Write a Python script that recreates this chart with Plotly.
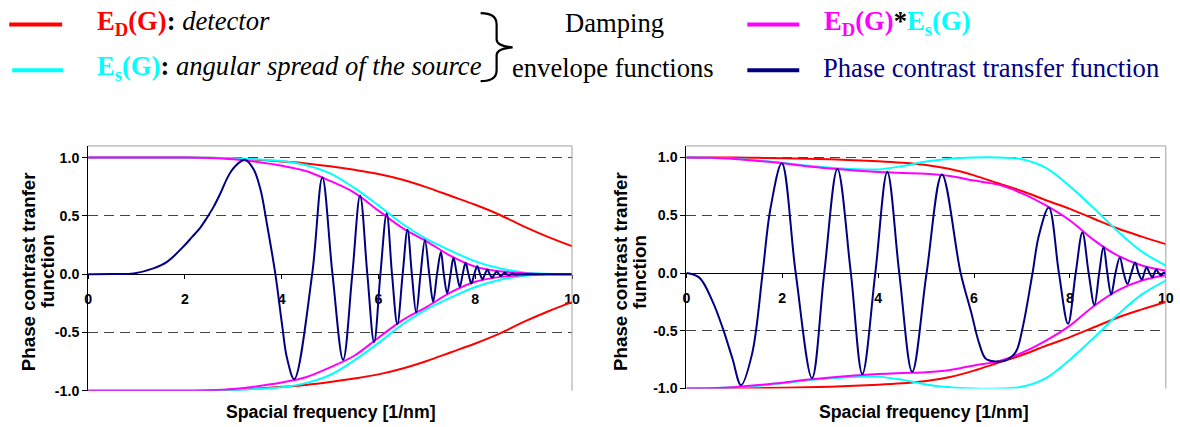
import plotly.graph_objects as go

W, H = 1180, 427

# ---------------- data ----------------
env_x = [0, 0.5, 1, 1.5, 2, 2.5, 3, 3.5, 4, 4.5, 5, 5.5, 6, 6.5, 7, 7.5, 8, 8.5, 9, 9.5, 10]

left_ed = [1, 1, 1, 1, 1, 0.998, 0.992, 0.982, 0.967, 0.95, 0.925, 0.895, 0.86, 0.81, 0.745, 0.67, 0.595, 0.51, 0.41, 0.32, 0.24]
left_es = [1, 1, 1, 1, 1, 0.999, 0.995, 0.985, 0.97, 0.935, 0.865, 0.74, 0.59, 0.43, 0.30, 0.20, 0.11, 0.05, 0.015, 0.003, 0]
left_prod = [1, 1, 1, 1, 1, 0.996, 0.985, 0.962, 0.93, 0.885, 0.80, 0.70, 0.545, 0.395, 0.28, 0.155, 0.065, 0.025, 0.008, 0.001, 0]

right_ed = [1, 1, 0.999, 0.997, 0.994, 0.99, 0.984, 0.977, 0.968, 0.955, 0.935, 0.90, 0.845, 0.777, 0.71, 0.63, 0.555, 0.47, 0.385, 0.315, 0.25]
right_es = [1, 0.998, 0.99, 0.975, 0.955, 0.93, 0.912, 0.90, 0.897, 0.925, 0.965, 0.99, 1.0, 1.0, 0.985, 0.91, 0.75, 0.56, 0.36, 0.185, 0.065]
right_prod = [1, 0.997, 0.988, 0.97, 0.95, 0.925, 0.905, 0.888, 0.875, 0.866, 0.86, 0.84, 0.80, 0.765, 0.69, 0.585, 0.455, 0.285, 0.15, 0.065, 0.02]

left_ctf_x = [0, 0.5, 0.94, 1.35, 1.63, 2.0, 2.15, 2.32, 2.45, 2.59, 2.73, 2.87, 2.96, 3.05, 3.15, 3.25,
              3.42, 3.56, 3.70, 3.87,
              4.01, 4.11, 4.26, 4.63, 4.84, 5.05, 5.27, 5.46, 5.62, 5.77, 5.91, 6.04, 6.17, 6.28,
              6.39, 6.50, 6.60, 6.69, 6.78, 6.87, 6.96, 7.05, 7.13, 7.21, 7.29, 7.35, 7.42, 7.49,
              7.55, 7.62, 7.68, 7.74, 7.80, 7.86, 7.92, 7.98, 8.04, 8.10, 8.15, 8.20, 8.25, 8.30,
              8.35, 8.40, 8.44, 8.49, 8.53, 8.57, 8.61, 8.65, 8.69, 8.73, 8.77, 8.81, 8.85, 8.90,
              9.0, 10]
left_ctf_y = [0, 0.001, 0.006, 0.05, 0.105, 0.25, 0.32, 0.40, 0.48, 0.575, 0.69, 0.82, 0.885, 0.93, 0.965, 0.98,
              0.90, 0.73, 0.42, 0,
              -0.44, -0.72, -0.90, 0, 0.83, 0, -0.735, 0, 0.675, 0, -0.584, 0, 0.52, 0,
              -0.43, 0, 0.38, 0, -0.33, 0, 0.29, 0, -0.236, 0, 0.19, 0, -0.165, 0,
              0.14, 0, -0.108, 0, 0.097, 0, -0.08, 0, 0.068, 0, -0.045, 0, 0.04, 0,
              -0.03, 0, 0.022, 0, -0.016, 0, 0.011, 0, -0.007, 0, 0.005, 0, -0.003, 0,
              0, 0]

right_ctf_x = [0, 0.27, 0.55, 0.76, 0.96, 1.14, 1.37, 1.59, 1.75, 1.99, 2.28, 2.62, 2.875, 3.15,
               3.43, 3.67, 3.94, 4.19, 4.44, 4.71, 5.01, 5.33, 5.72, 5.94, 6.10, 6.24, 6.42,
               6.66, 6.87, 7.01, 7.22, 7.35, 7.56, 7.77, 7.96, 8.12, 8.26, 8.39, 8.51, 8.61,
               8.70, 8.78, 8.86, 8.95, 9.04, 9.12, 9.20, 9.28, 9.36, 9.43, 9.50, 9.55, 9.60,
               9.66, 9.72, 9.76, 9.80, 9.85, 9.90, 9.95, 10]
right_ctf_y = [0, -0.04, -0.25, -0.48, -0.74, -0.97, -0.70, 0, 0.55, 0.95, 0, -0.91, 0, 0.90,
               0, -0.875, 0, 0.875, 0, -0.856, 0, 0.853, 0, -0.34, -0.60, -0.74, -0.765,
               -0.756, -0.684, -0.48, 0, 0.32, 0.566, 0, -0.44, 0, 0.35, 0, -0.276, 0,
               0.228, 0, -0.186, 0, 0.134, 0, -0.094, 0, 0.09, 0, -0.057, 0, 0.05,
               0, -0.037, 0, 0.03, 0, -0.02, 0, 0.005]

y_tick_vals = [-1, -0.5, 0, 0.5, 1]
y_tick_text = ["-1.0", "-0.5", "0.0", "0.5", "1.0"]
x_tick_vals = [0, 2, 4, 6, 8, 10]
x_tick_text = ["0", "2", "4", "6", "8", "10"]

RED, CYAN, MAGENTA, NAVY = "#FF0000", "#00FFFF", "#FF00FF", "#000080"

# ---------------- layout helpers (target pixels -> paper) ----------------
# the captured page comes out slightly shrunk; compensate so marks land on target pixels
SX, OX = 0.991, 3.8
SY, OY = 0.985, -0.5
FS = 1 / 0.988


def px(x):
    return ((x - OX) / SX) / W


def py(y):
    return 1 - ((y - OY) / SY) / H


Y_MIN, Y_MAX = -1, 1.1
panels = [
    dict(xa="x", ya="y", x0=88, x1=572.5, ybot=391.7, ytop=146,
         ed=left_ed, es=left_es, prod=left_prod, cx=left_ctf_x, cy=left_ctf_y,
         ytitle_x=(28.5, 47.5), xtitle_x=331),
    dict(xa="x2", ya="y2", x0=687, x1=1167, ybot=389.5, ytop=146,
         ed=right_ed, es=right_es, prod=right_prod, cx=right_ctf_x, cy=right_ctf_y,
         ytitle_x=(621, 640), xtitle_x=925),
]

fig = go.Figure()


def add_line(xs, ys, color, xa, ya, width=2):
    fig.add_trace(go.Scatter(x=xs, y=ys, mode="lines",
                             line=dict(color=color, width=width, shape="spline", smoothing=1),
                             xaxis=xa, yaxis=ya, showlegend=False, hoverinfo="skip"))


for p in panels:
    for vals, col in ((p["ed"], RED), (p["es"], CYAN), (p["prod"], MAGENTA)):
        add_line(env_x, vals, col, p["xa"], p["ya"])
        add_line(env_x, [-v for v in vals], col, p["xa"], p["ya"])
    add_line(p["cx"], p["cy"], NAVY, p["xa"], p["ya"])

tickfont = dict(family="Liberation Sans, Arial", size=14 * FS, color="black", weight="bold")
shapes = []
annotations = []
for i, p in enumerate(panels):
    sfx = "" if i == 0 else "2"
    ydom = [py(p["ybot"]), py(p["ytop"])]
    zero_pos = ydom[0] + (0 - Y_MIN) / (Y_MAX - Y_MIN) * (ydom[1] - ydom[0])
    fig.layout["xaxis" + sfx] = dict(
        domain=[px(p["x0"]), px(p["x1"])], range=[0, 10], anchor="free", position=zero_pos,
        showline=True, linecolor="black", linewidth=1, ticks="outside", ticklen=4,
        tickcolor="black", tickvals=x_tick_vals, ticktext=x_tick_text, tickfont=tickfont,
        ticklabelstandoff=8, showgrid=False, zeroline=False, layer="below traces",
        fixedrange=True)
    fig.layout["yaxis" + sfx] = dict(
        domain=ydom, range=[Y_MIN, Y_MAX], anchor="x" + sfx,
        showline=True, linecolor="black", linewidth=1, ticks="outside", ticklen=5,
        tickcolor="black", tickvals=y_tick_vals, ticktext=y_tick_text, tickfont=tickfont,
        showgrid=True, gridcolor="#444444", gridwidth=1, griddash="10px,6px",
        zeroline=False, layer="below traces", fixedrange=True)
    # grey plot-area border (top and right)
    shapes.append(dict(type="line", xref="paper", yref="paper", x0=px(p["x0"]), x1=px(p["x1"]),
                       y0=ydom[1], y1=ydom[1], line=dict(color="#A0A0A0", width=1)))
    shapes.append(dict(type="line", xref="paper", yref="paper", x0=px(p["x1"]), x1=px(p["x1"]),
                       y0=ydom[0], y1=ydom[1], line=dict(color="#A0A0A0", width=1)))
    # axis titles
    yfont = dict(family="Liberation Sans, Arial", size=18.5 * FS, color="black", weight="bold")
    xfont = dict(family="Liberation Sans, Arial", size=17.5 * FS, color="black", weight="bold")
    for txt, xx in zip(["Phase contrast tranfer", "function"], p["ytitle_x"]):
        annotations.append(dict(text=txt, x=px(xx), y=py(272), xref="paper", yref="paper",
                                textangle=-90, showarrow=False, font=yfont,
                                xanchor="center", yanchor="middle"))
    annotations.append(dict(text="Spacial frequency [1/nm]", x=px(p["xtitle_x"]), y=py(413),
                            xref="paper", yref="paper", showarrow=False, font=xfont,
                            xanchor="center", yanchor="middle"))

# ---------------- custom legend ----------------
serif = "Liberation Serif, Times New Roman"
lfont = dict(family=serif, size=26.3 * FS, color="black")
for (x0, x1, y, col) in [(9, 62, 24, RED), (12, 63, 70, CYAN), (748, 800, 24, MAGENTA), (748, 800, 70, NAVY)]:
    shapes.append(dict(type="line", xref="paper", yref="paper", x0=px(x0), x1=px(x1),
                       y0=py(y), y1=py(y), line=dict(color=col, width=4)))


def ann(text, x, y, anchor="left"):
    annotations.append(dict(text=text, x=px(x), y=py(y), xref="paper", yref="paper",
                            showarrow=False, font=lfont, xanchor=anchor, yanchor="middle"))


ann(f"<span style='color:{RED}'><b>E<sub>D</sub>(G)</b></span><b>:</b> <i>detector</i>", 95, 23)
ann(f"<span style='color:{CYAN}'><b>E<sub>s</sub>(G)</b></span><b>:</b> <i>angular spread of the source</i>", 95, 68)
ann("Damping", 615, 23, "center")
ann("envelope functions", 614, 68, "center")
ann(f"<span style='color:{MAGENTA}'><b>E<sub>D</sub>(G)</b></span><b>*</b>"
    f"<span style='color:{CYAN}'><b>E<sub>s</sub>(G)</b></span>", 823, 23)
ann(f"<span style='color:{NAVY}'>Phase contrast transfer function</span>", 822, 68)

# curly brace
brace_pts = "M {a},{b} Q {c},{b} {c},{d} L {c},{e} Q {c},{f} {g},{h} Q {c},{i} {c},{j} L {c},{k} Q {c},{l} {a},{l}"
bp = brace_pts.format(a=px(481), b=py(12.7), c=px(497), d=py(24), e=py(39), f=py(46),
                      g=px(513), h=py(47), i=py(48), j=py(55), k=py(70), l=py(81))
shapes.append(dict(type="path", xref="paper", yref="paper", path=bp,
                   line=dict(color="black", width=2.2)))

fig.update_layout(width=W, height=H, margin=dict(l=0, r=0, t=0, b=0),
                  paper_bgcolor="white", plot_bgcolor="white",
                  shapes=shapes, annotations=annotations, showlegend=False)

fig.write_html("out.html", config={"displayModeBar": False})
